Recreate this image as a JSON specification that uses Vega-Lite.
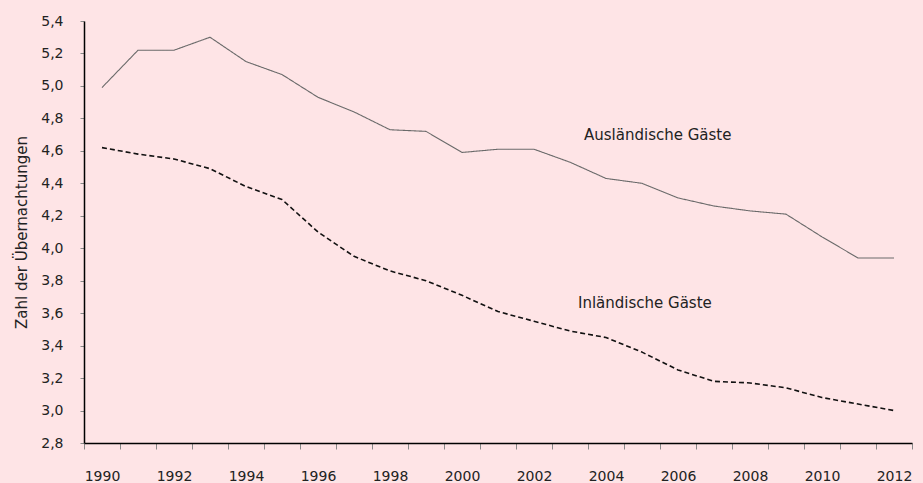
{
  "$schema": "https://vega.github.io/schema/vega-lite/v6.json",
  "width": 828,
  "height": 422,
  "autosize": "none",
  "padding": {"left": 84, "top": 21, "right": 11, "bottom": 40},
  "background": "#FEE4E6",
  "config": {"view": {"stroke": null}, "font": "DejaVu Sans"},
  "datasets": {
    "series": [
      {"year": 1990, "series": "Ausländische Gäste", "value": 4.99},
      {"year": 1991, "series": "Ausländische Gäste", "value": 5.22},
      {"year": 1992, "series": "Ausländische Gäste", "value": 5.22},
      {"year": 1993, "series": "Ausländische Gäste", "value": 5.30},
      {"year": 1994, "series": "Ausländische Gäste", "value": 5.15},
      {"year": 1995, "series": "Ausländische Gäste", "value": 5.07},
      {"year": 1996, "series": "Ausländische Gäste", "value": 4.93},
      {"year": 1997, "series": "Ausländische Gäste", "value": 4.84},
      {"year": 1998, "series": "Ausländische Gäste", "value": 4.73},
      {"year": 1999, "series": "Ausländische Gäste", "value": 4.72},
      {"year": 2000, "series": "Ausländische Gäste", "value": 4.59},
      {"year": 2001, "series": "Ausländische Gäste", "value": 4.61},
      {"year": 2002, "series": "Ausländische Gäste", "value": 4.61},
      {"year": 2003, "series": "Ausländische Gäste", "value": 4.53},
      {"year": 2004, "series": "Ausländische Gäste", "value": 4.43},
      {"year": 2005, "series": "Ausländische Gäste", "value": 4.40},
      {"year": 2006, "series": "Ausländische Gäste", "value": 4.31},
      {"year": 2007, "series": "Ausländische Gäste", "value": 4.26},
      {"year": 2008, "series": "Ausländische Gäste", "value": 4.23},
      {"year": 2009, "series": "Ausländische Gäste", "value": 4.21},
      {"year": 2010, "series": "Ausländische Gäste", "value": 4.07},
      {"year": 2011, "series": "Ausländische Gäste", "value": 3.94},
      {"year": 2012, "series": "Ausländische Gäste", "value": 3.94},
      {"year": 1990, "series": "Inländische Gäste", "value": 4.62},
      {"year": 1991, "series": "Inländische Gäste", "value": 4.58},
      {"year": 1992, "series": "Inländische Gäste", "value": 4.55},
      {"year": 1993, "series": "Inländische Gäste", "value": 4.49},
      {"year": 1994, "series": "Inländische Gäste", "value": 4.38},
      {"year": 1995, "series": "Inländische Gäste", "value": 4.30},
      {"year": 1996, "series": "Inländische Gäste", "value": 4.10},
      {"year": 1997, "series": "Inländische Gäste", "value": 3.95},
      {"year": 1998, "series": "Inländische Gäste", "value": 3.86},
      {"year": 1999, "series": "Inländische Gäste", "value": 3.80},
      {"year": 2000, "series": "Inländische Gäste", "value": 3.71},
      {"year": 2001, "series": "Inländische Gäste", "value": 3.61},
      {"year": 2002, "series": "Inländische Gäste", "value": 3.55},
      {"year": 2003, "series": "Inländische Gäste", "value": 3.49},
      {"year": 2004, "series": "Inländische Gäste", "value": 3.45},
      {"year": 2005, "series": "Inländische Gäste", "value": 3.36},
      {"year": 2006, "series": "Inländische Gäste", "value": 3.25},
      {"year": 2007, "series": "Inländische Gäste", "value": 3.18},
      {"year": 2008, "series": "Inländische Gäste", "value": 3.17},
      {"year": 2009, "series": "Inländische Gäste", "value": 3.14},
      {"year": 2010, "series": "Inländische Gäste", "value": 3.08},
      {"year": 2011, "series": "Inländische Gäste", "value": 3.04},
      {"year": 2012, "series": "Inländische Gäste", "value": 3.00}
    ],
    "labels": [
      {"year": 2003, "value": 4.70, "label": "Ausländische Gäste"},
      {"year": 2003, "value": 3.66, "label": "Inländische Gäste"}
    ]
  },
  "encoding": {
    "x": {
      "field": "year",
      "type": "ordinal",
      "bandPosition": 0.5,
      "scale": {"type": "band", "paddingInner": 0, "paddingOuter": 0},
      "axis": {
        "title": null,
        "tickBand": "extent",
        "labelAngle": 0,
        "labelOverlap": false,
        "labelExpr": "datum.value % 2 == 0 ? datum.label : ''",
        "labelFontSize": 14,
        "labelColor": "#222222",
        "labelPadding": 20,
        "domainColor": "#000000",
        "domainWidth": 1.5,
        "tickColor": "#888888",
        "tickSize": 6,
        "grid": false
      }
    },
    "y": {
      "field": "value",
      "type": "quantitative",
      "scale": {"domain": [2.8, 5.4], "zero": false, "nice": false},
      "axis": {
        "title": "Zahl der Übernachtungen",
        "values": [2.8, 3.0, 3.2, 3.4, 3.6, 3.8, 4.0, 4.2, 4.4, 4.6, 4.8, 5.0, 5.2, 5.4],
        "labelExpr": "replace(format(datum.value, '.1f'), '.', ',')",
        "labelOverlap": false,
        "labelFlush": false,
        "labelFontSize": 14,
        "labelColor": "#222222",
        "labelPadding": 17,
        "tickSize": 4,
        "tickColor": "#888888",
        "domainColor": "#000000",
        "domainWidth": 1.5,
        "titleFontSize": 15,
        "titleFontWeight": "normal",
        "titleColor": "#222222",
        "titlePadding": 11,
        "grid": false
      }
    }
  },
  "layer": [
    {
      "data": {"name": "series"},
      "mark": {"type": "line", "strokeJoin": "round"},
      "encoding": {
        "color": {
          "field": "series",
          "type": "nominal",
          "scale": {"domain": ["Ausländische Gäste", "Inländische Gäste"], "range": ["#6a6a6a", "#111111"]},
          "legend": null
        },
        "strokeDash": {
          "field": "series",
          "type": "nominal",
          "scale": {"domain": ["Ausländische Gäste", "Inländische Gäste"], "range": [[1, 0], [5, 3]]},
          "legend": null
        },
        "strokeWidth": {
          "field": "series",
          "type": "nominal",
          "scale": {"domain": ["Ausländische Gäste", "Inländische Gäste"], "range": [1.1, 1.6]},
          "legend": null
        }
      }
    },
    {
      "data": {"name": "labels"},
      "transform": [{"filter": "datum.label == 'Ausländische Gäste'"}],
      "mark": {"type": "text", "align": "left", "baseline": "middle", "fontSize": 15, "color": "#222222", "dx": 14},
      "encoding": {
        "text": {"field": "label"}
      }
    },
    {
      "data": {"name": "labels"},
      "transform": [{"filter": "datum.label == 'Inländische Gäste'"}],
      "mark": {"type": "text", "align": "left", "baseline": "middle", "fontSize": 15, "color": "#222222", "dx": 8},
      "encoding": {
        "text": {"field": "label"}
      }
    }
  ]
}
